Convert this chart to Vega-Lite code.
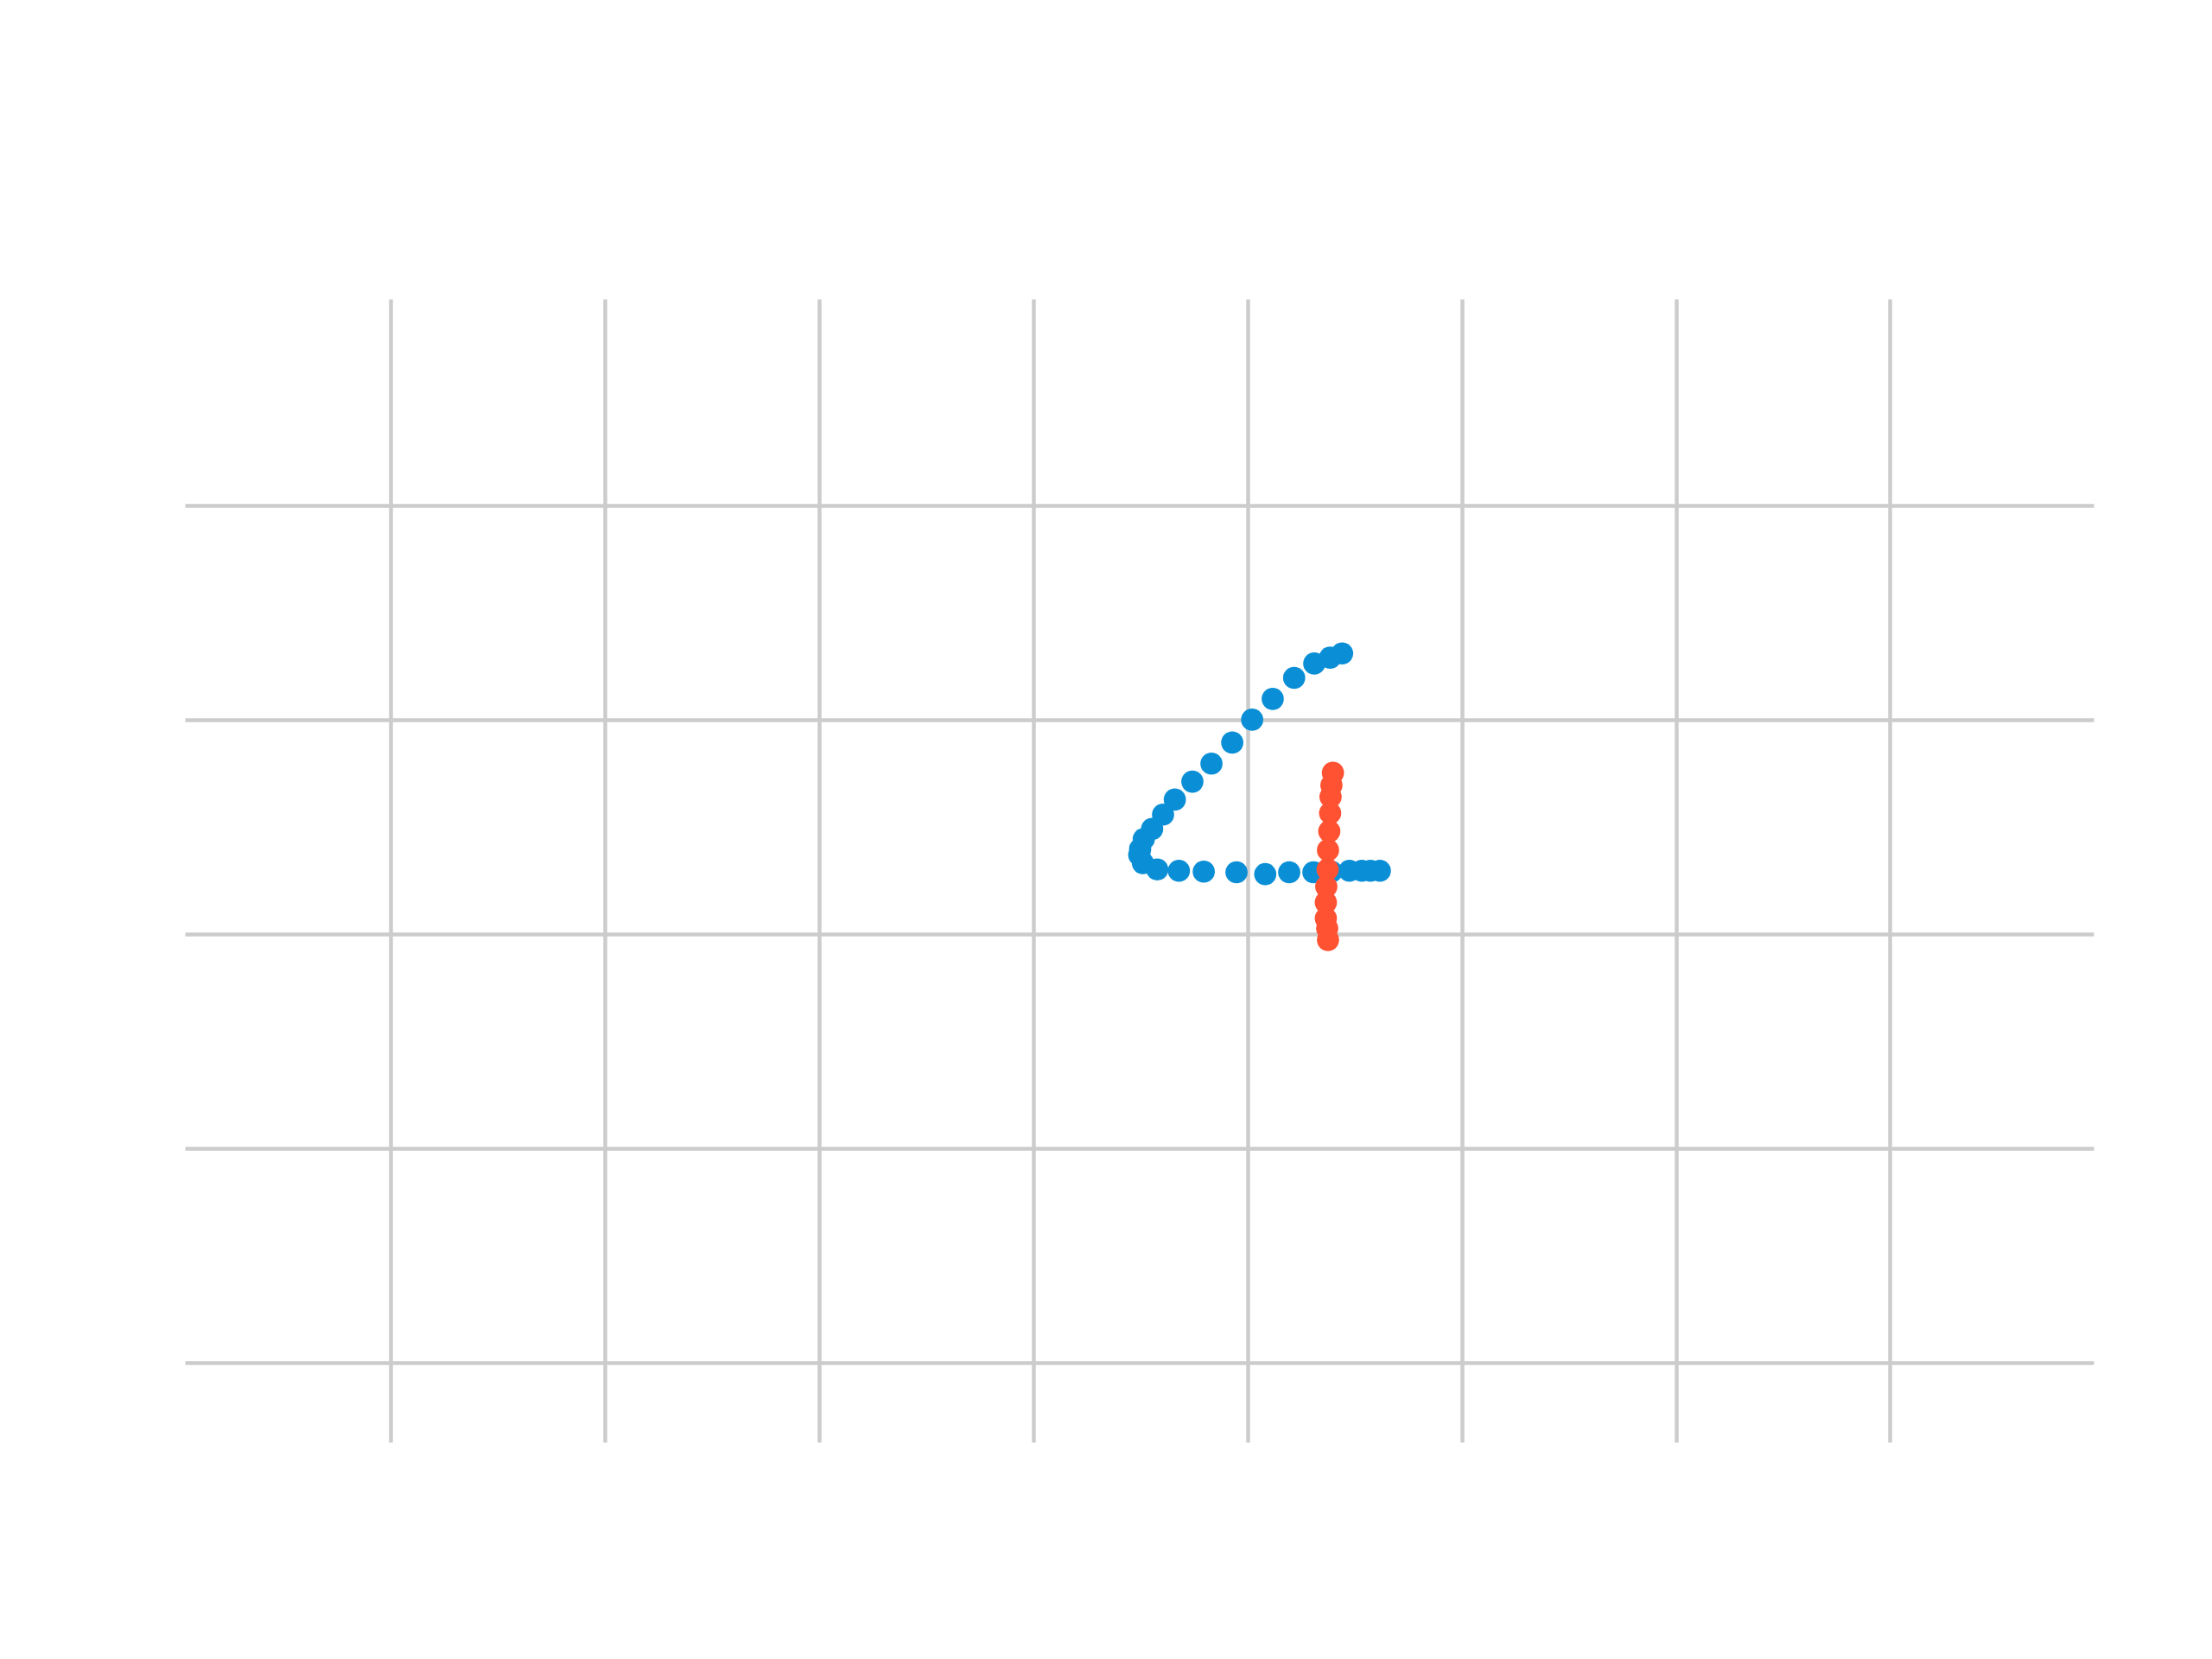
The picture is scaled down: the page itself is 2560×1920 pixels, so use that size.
{
  "$schema": "https://vega.github.io/schema/vega-lite/v6.json",
  "width": 2209,
  "height": 1323,
  "autosize": "none",
  "padding": {"left": 214, "top": 346, "right": 137, "bottom": 251},
  "background": "white",
  "data": {
    "values": [
      {"x": 5.442, "y": 3.310, "stroke": "a"},
      {"x": 5.386, "y": 3.290, "stroke": "a"},
      {"x": 5.312, "y": 3.263, "stroke": "a"},
      {"x": 5.218, "y": 3.196, "stroke": "a"},
      {"x": 5.118, "y": 3.098, "stroke": "a"},
      {"x": 5.022, "y": 3.001, "stroke": "a"},
      {"x": 4.929, "y": 2.894, "stroke": "a"},
      {"x": 4.832, "y": 2.796, "stroke": "a"},
      {"x": 4.743, "y": 2.712, "stroke": "a"},
      {"x": 4.661, "y": 2.628, "stroke": "a"},
      {"x": 4.606, "y": 2.558, "stroke": "a"},
      {"x": 4.555, "y": 2.491, "stroke": "a"},
      {"x": 4.516, "y": 2.444, "stroke": "a"},
      {"x": 4.499, "y": 2.397, "stroke": "a"},
      {"x": 4.495, "y": 2.370, "stroke": "a"},
      {"x": 4.512, "y": 2.332, "stroke": "a"},
      {"x": 4.579, "y": 2.302, "stroke": "a"},
      {"x": 4.680, "y": 2.296, "stroke": "a"},
      {"x": 4.796, "y": 2.292, "stroke": "a"},
      {"x": 4.949, "y": 2.289, "stroke": "a"},
      {"x": 5.083, "y": 2.280, "stroke": "a"},
      {"x": 5.195, "y": 2.289, "stroke": "a"},
      {"x": 5.308, "y": 2.289, "stroke": "a"},
      {"x": 5.392, "y": 2.292, "stroke": "a"},
      {"x": 5.476, "y": 2.296, "stroke": "a"},
      {"x": 5.534, "y": 2.296, "stroke": "a"},
      {"x": 5.574, "y": 2.296, "stroke": "a"},
      {"x": 5.618, "y": 2.296, "stroke": "a"},
      {"x": 5.399, "y": 2.753, "stroke": "b"},
      {"x": 5.392, "y": 2.695, "stroke": "b"},
      {"x": 5.388, "y": 2.641, "stroke": "b"},
      {"x": 5.386, "y": 2.565, "stroke": "b"},
      {"x": 5.382, "y": 2.480, "stroke": "b"},
      {"x": 5.376, "y": 2.392, "stroke": "b"},
      {"x": 5.374, "y": 2.302, "stroke": "b"},
      {"x": 5.368, "y": 2.222, "stroke": "b"},
      {"x": 5.366, "y": 2.148, "stroke": "b"},
      {"x": 5.366, "y": 2.074, "stroke": "b"},
      {"x": 5.372, "y": 2.027, "stroke": "b"},
      {"x": 5.376, "y": 1.973, "stroke": "b"}
    ]
  },
  "mark": {"type": "circle", "size": 660, "opacity": 1},
  "encoding": {
    "x": {
      "field": "x",
      "type": "quantitative",
      "scale": {"domain": [0.04, 8.95], "nice": false, "zero": false},
      "axis": {"values": [1, 2, 3, 4, 5, 6, 7, 8], "labels": false, "ticks": false, "domain": false, "title": null, "gridColor": "#cccccc", "gridWidth": 4.5, "gridOpacity": 1}
    },
    "y": {
      "field": "y",
      "type": "quantitative",
      "scale": {"domain": [-0.37, 4.964], "nice": false, "zero": false},
      "axis": {"values": [0, 1, 2, 3, 4], "labels": false, "ticks": false, "domain": false, "title": null, "gridColor": "#cccccc", "gridWidth": 4.5, "gridOpacity": 1}
    },
    "color": {
      "field": "stroke",
      "type": "nominal",
      "scale": {"domain": ["a", "b"], "range": ["#0a8fd6", "#ff5233"]},
      "legend": null
    },
    "order": {"field": "stroke", "type": "nominal"}
  },
  "config": {"view": {"stroke": null}}
}
